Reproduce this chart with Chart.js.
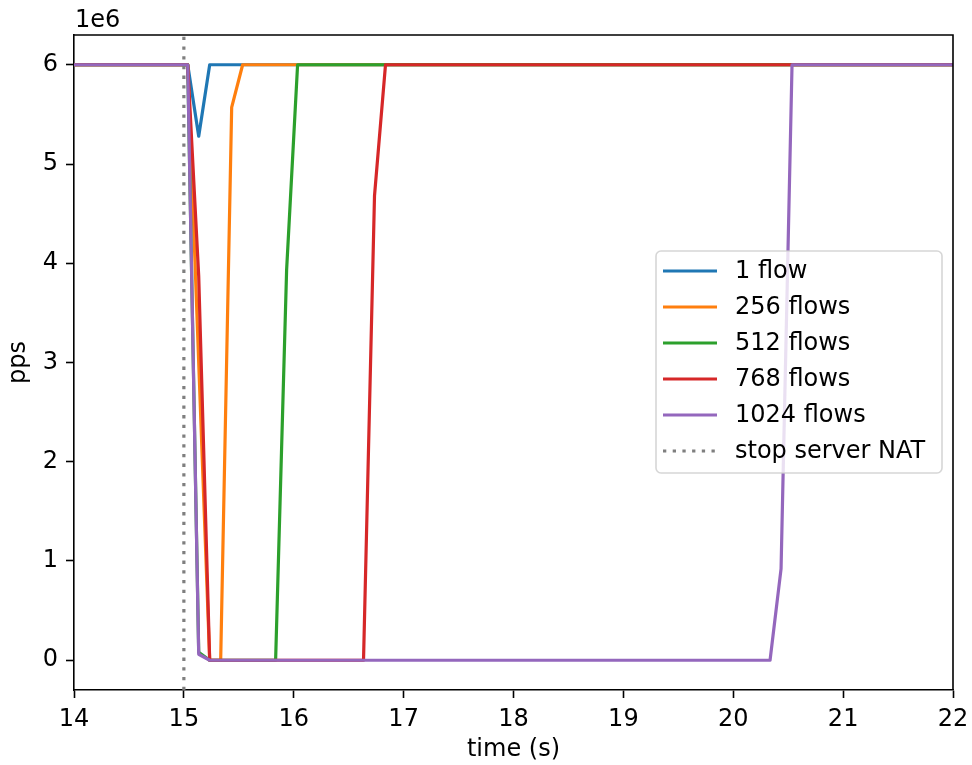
<!DOCTYPE html>
<html>
<head>
<meta charset="utf-8">
<script src="https://cdn.jsdelivr.net/npm/chart.js@4"></script>
<style>
  html, body { margin: 0; padding: 0; background: #fff; }
  #wrap { width: 972px; height: 765px; }
</style>
</head>
<body>
<div id="wrap"><canvas id="myChart" width="972" height="765"></canvas></div>
<script>
// sample times (s) and packet rates (pps)
const t1 = [13.935, 15.035, 15.135, 15.235, 22.035];
const pps1 = [6.0e6, 6.0e6, 5.28e6, 6.0e6, 6.0e6];

const t256 = [13.935, 15.035, 15.135, 15.235, 15.335, 15.435, 15.535, 22.035];
const pps256 = [6.0e6, 6.0e6, 3.0e6, 0, 0, 5.57e6, 6.0e6, 6.0e6];

const t512 = [13.935, 15.035, 15.135, 15.235, 15.835, 15.935, 16.035, 22.035];
const pps512 = [6.0e6, 6.0e6, 0.08e6, 0, 0, 3.93e6, 6.0e6, 6.0e6];

const t768 = [13.935, 15.035, 15.135, 15.235, 16.635, 16.735, 16.835, 22.035];
const pps768 = [6.0e6, 6.0e6, 3.87e6, 0, 0, 4.68e6, 6.0e6, 6.0e6];

const t1024 = [13.935, 15.035, 15.135, 15.235, 20.335, 20.435, 20.535, 22.035];
const pps1024 = [6.0e6, 6.0e6, 0.06e6, 0, 0, 0.92e6, 6.0e6, 6.0e6];

const seriesLabels = ["1 flow", "256 flows", "512 flows", "768 flows", "1024 flows"];
const stopLabel = "stop server NAT";
const stopTime = 15;

const xTicks = [14, 15, 16, 17, 18, 19, 20, 21, 22];
const yTicks = [0, 1e6, 2e6, 3e6, 4e6, 5e6, 6e6];
const xMin = 14, xMax = 22;
const yMin = -0.3e6, yMax = 6.3e6;

const colors = ["#1f77b4", "#ff7f0e", "#2ca02c", "#d62728", "#9467bd"];
const FONT = "'DejaVu Sans', sans-serif";
const FS = 24;

function pts(ts, vs) {
  return ts.map((t, i) => ({ x: t, y: vs[i] }));
}

const allT = [t1, t256, t512, t768, t1024];
const allV = [pps1, pps256, pps512, pps768, pps1024];

const datasets = seriesLabels.map((lab, i) => ({
  label: lab,
  data: pts(allT[i], allV[i]),
  borderColor: colors[i],
  backgroundColor: colors[i],
  borderWidth: 3.2,
  borderJoinStyle: "round",
  pointRadius: 0,
  tension: 0,
  clip: 0,
  order: 10 - i
}));

datasets.push({
  label: stopLabel,
  data: [{ x: stopTime, y: yMin }, { x: stopTime, y: yMax }],
  borderColor: "#7f7f7f",
  backgroundColor: "#7f7f7f",
  borderWidth: 3.2,
  borderDash: [3.3, 6.4],
  borderCapStyle: "butt",
  pointRadius: 0,
  clip: 0,
  order: 0
});

// closes the axes box and writes the offset label
const boxPlugin = {
  id: "box",
  afterDraw(chart) {
    const { ctx, chartArea: a } = chart;
    ctx.save();
    ctx.strokeStyle = "#000";
    ctx.lineWidth = 1.6;
    ctx.beginPath();
    ctx.moveTo(a.left, a.top);
    ctx.lineTo(a.right, a.top);
    ctx.lineTo(a.right, a.bottom);
    ctx.stroke();
    ctx.fillStyle = "#000";
    ctx.font = FS + "px " + FONT;
    ctx.textAlign = "left";
    ctx.textBaseline = "alphabetic";
    ctx.fillText("1e6", a.left + 1, 27);
    ctx.restore();
  }
};

// matplotlib-like legend box inside the axes
const legendPlugin = {
  id: "mplLegend",
  afterDatasetsDraw(chart) {
    const { ctx } = chart;
    const bx = 656, by = 251, bw = 286, bh = 222, r = 5;
    ctx.save();
    ctx.beginPath();
    ctx.moveTo(bx + r, by);
    ctx.arcTo(bx + bw, by, bx + bw, by + bh, r);
    ctx.arcTo(bx + bw, by + bh, bx, by + bh, r);
    ctx.arcTo(bx, by + bh, bx, by, r);
    ctx.arcTo(bx, by, bx + bw, by, r);
    ctx.closePath();
    ctx.fillStyle = "rgba(255,255,255,0.8)";
    ctx.fill();
    ctx.strokeStyle = "rgba(204,204,204,0.8)";
    ctx.lineWidth = 1.6;
    ctx.stroke();

    ctx.font = FS + "px " + FONT;
    ctx.textAlign = "left";
    ctx.textBaseline = "middle";
    chart.data.datasets.forEach((ds, i) => {
      const y = 271 + i * 36;
      ctx.beginPath();
      ctx.strokeStyle = ds.borderColor;
      ctx.lineWidth = 3.2;
      ctx.setLineDash(ds.borderDash || []);
      ctx.moveTo(663, y);
      ctx.lineTo(717, y);
      ctx.stroke();
      ctx.setLineDash([]);
      ctx.fillStyle = "#000";
      ctx.fillText(ds.label, 735, y + 1);
    });
    ctx.restore();
  }
};

const config = {
  type: "line",
  data: { datasets: datasets },
  options: {
    responsive: false,
    animation: false,
    events: [],
    layout: { padding: { left: 0, top: 35, right: 19, bottom: 0 } },
    plugins: {
      legend: { display: false },
      tooltip: { enabled: false }
    },
    scales: {
      x: {
        type: "linear",
        min: xMin,
        max: xMax,
        afterBuildTicks: (s) => { s.ticks = xTicks.map(v => ({ value: v })); },
        afterFit: (s) => { s.height = 75; s.paddingLeft = 0; s.paddingRight = 0; },
        grid: { display: true, drawOnChartArea: false, drawTicks: true, tickLength: 8, tickWidth: 1.6, tickColor: "#000" },
        border: { display: true, color: "#000", width: 1.6 },
        ticks: {
          color: "#000",
          font: { family: FONT, size: FS },
          padding: 7,
          maxRotation: 0,
          callback: (v) => String(v)
        },
        title: {
          display: true,
          text: "time (s)",
          color: "#000",
          font: { family: FONT, size: FS },
          padding: { top: 0, bottom: 1 }
        }
      },
      y: {
        type: "linear",
        min: yMin,
        max: yMax,
        afterBuildTicks: (s) => { s.ticks = yTicks.map(v => ({ value: v })); },
        afterFit: (s) => { s.width = 74; s.paddingTop = 0; s.paddingBottom = 0; },
        grid: { display: true, drawOnChartArea: false, drawTicks: true, tickLength: 8, tickWidth: 1.6, tickColor: "#000" },
        border: { display: true, color: "#000", width: 1.6 },
        ticks: {
          color: "#000",
          font: { family: FONT, size: FS },
          padding: 8,
          callback: (v) => String(Math.round(v / 1e6))
        },
        title: {
          display: true,
          text: "pps",
          color: "#000",
          font: { family: FONT, size: FS },
          padding: { top: 4, bottom: 0 }
        }
      }
    }
  },
  plugins: [boxPlugin, legendPlugin]
};

const myChart = new Chart(document.getElementById("myChart"), config);
</script>
</body>
</html>
